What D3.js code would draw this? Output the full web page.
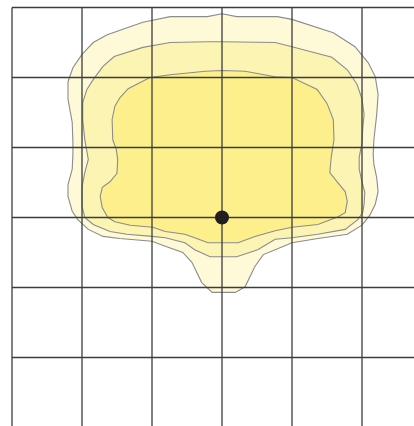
<!DOCTYPE html>
<meta charset="utf-8">
<head>
<script src="https://d3js.org/d3.v7.min.js"></script>
<style>
  body { margin: 0; background: #fff; }
</style>
</head>
<body>
<svg id="chart" width="414" height="426"></svg>
<script>
// contour outlines, grid units (10 per cell), origin at the dot
var outer = [
  [0,29.1],[2.1,28.7],[7.9,28.7],[10,28.3],[15.9,26.4],[19,24.4],[20.9,22.1],[21.9,20.1],
  [22.3,17.6],[22.1,14.7],[21.7,11.1],[21.6,9],[21.7,7.6],[22.1,5.7],[22.3,3.7],[21.9,1.9],
  [21.1,0.3],[20,-1.1],[17.9,-2.4],[13.7,-3],[10,-3.6],[7.6,-4.6],[5.9,-5.3],[4.7,-7],
  [3.3,-9.9],[1.9,-10.7],[-1.4,-10.7],[-2.9,-9.3],[-4.3,-6.4],[-5.6,-5],[-8.1,-4.1],[-10,-3.4],
  [-14.6,-3],[-17,-2.7],[-19.1,-1.7],[-20.6,-0.3],[-21.4,0.9],[-22,3],[-22,4.7],[-21.4,6.9],
  [-21.3,9],[-21.3,10.7],[-21.4,13.6],[-22,16.9],[-22,19.4],[-21.3,21.4],[-20,23.3],[-18.4,25],
  [-16.4,26.1],[-11.3,27.9],[-7.4,28.7],[-2.1,28.7]
];
var middle = [
  [0,25.1],[7.6,25],[10,24.4],[15.7,22.9],[17.9,21.1],[19.3,19],[20,16.9],[20.3,14.7],
  [20.1,12.6],[20,10.7],[19.6,8.6],[19.6,6.9],[20,5.1],[20.4,3.6],[20.3,1.9],[20.1,0.7],
  [19.4,-0.3],[17.6,-1.7],[13.7,-2.4],[10,-2.9],[7.6,-3.1],[5.1,-4.6],[2.1,-5.6],[-1.7,-5.6],
  [-3.9,-4.6],[-5.3,-3.6],[-8.1,-2.9],[-10,-2.7],[-13.6,-2.4],[-16,-2],[-18.4,-1],[-19.6,0],
  [-20,1.6],[-20,4.4],[-19.6,6.4],[-19.1,8.3],[-19.6,11.1],[-19.9,14],[-19.9,16.4],[-19.3,18.3],
  [-18.4,19.7],[-17,21.6],[-15.4,23],[-11.3,24.3],[-7.4,25],[-2.1,25.1]
];
var inner = [
  [0,21],[3.3,20.9],[7.6,20.1],[10,20],[13.6,18.3],[15,16.3],[15.9,14],[16,11.1],
  [15.6,8.6],[15.4,6.4],[16.6,4.9],[17.6,3.7],[17.9,2.3],[17.6,0.7],[16.6,0.1],[13.7,-1],
  [10,-1.4],[7.6,-1.9],[4.7,-2.7],[2.3,-3.6],[-2,-3.6],[-3.9,-2.9],[-5.3,-2.4],[-8.1,-2],
  [-9.9,-1.4],[-13.1,-1.1],[-15.3,-0.6],[-16.3,0],[-17.1,1.4],[-17.4,3],[-17.1,4.3],[-16,5.1],
  [-15,6.3],[-14.9,8.3],[-15.1,9.7],[-15.6,11.1],[-15.7,14],[-15.3,15.9],[-14.6,17.1],[-13.4,18.4],
  [-10.3,20],[-7.4,20.4],[-2.4,20.9]
];
var levels = [outer, middle, inner];
var levelColors = ["#fef9d6", "#fcf4b2", "#fdf08c"];
var gridTicks = [-30, -20, -10, 0, 10, 20, 30];
var centre = [0, 0];

var svg = d3.select("#chart"),
    width = +svg.attr("width"),
    height = +svg.attr("height");

var x = d3.scaleLinear().domain([-30, 30]).range([12, 432]);
var y = d3.scaleLinear().domain([30, -30]).range([7.5, 427.5]);

var line = d3.line()
  .x(function(d) { return x(d[0]); })
  .y(function(d) { return y(d[1]); })
  .curve(d3.curveLinearClosed);

// filled contours, biggest first
svg.append("g")
  .selectAll("path")
  .data(levels)
  .enter()
  .append("path")
  .attr("d", line)
  .attr("fill", function(d, i) { return levelColors[i]; })
  .attr("stroke", "#8c8c8c")
  .attr("stroke-width", 1.1);

// grid on top
var grid = svg.append("g")
  .attr("stroke", "#3c3c3c")
  .attr("stroke-width", 1.3);

grid.selectAll(".v")
  .data(gridTicks.filter(function(t) { return x(t) <= width; }))
  .enter()
  .append("line")
  .attr("class", "v")
  .attr("x1", function(d) { return x(d); })
  .attr("x2", function(d) { return x(d); })
  .attr("y1", y(30))
  .attr("y2", height);

grid.selectAll(".h")
  .data(gridTicks.filter(function(t) { return y(t) <= height; }))
  .enter()
  .append("line")
  .attr("class", "h")
  .attr("x1", x(-30))
  .attr("x2", width)
  .attr("y1", function(d) { return y(d); })
  .attr("y2", function(d) { return y(d); });

svg.append("circle")
  .attr("cx", x(centre[0]))
  .attr("cy", y(centre[1]))
  .attr("r", 7)
  .attr("fill", "#221e20");
</script>
</body>
